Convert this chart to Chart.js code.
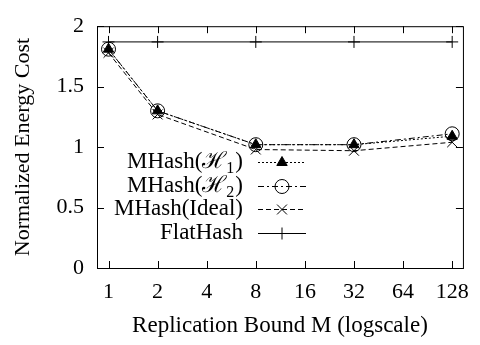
<!DOCTYPE html>
<html lang="en">
<head>
    <meta charset="UTF-8">
    <title>Normalized Energy Cost vs Replication Bound</title>
    <style>
        body { margin: 0; background: #fff; }
        #wrap { width: 480px; height: 345px; }
    </style>
    <script src="https://cdn.jsdelivr.net/npm/chart.js"></script>
</head>
<body>
    <div id="wrap"><canvas id="costChart"></canvas></div>
    <script>
        // data
        const bounds = [1, 2, 8, 32, 128];
        const tickBounds = [1, 2, 4, 8, 16, 32, 64, 128];
        const yTicks = [0, 0.5, 1, 1.5, 2];
        const h1Cost = [1.81, 1.30, 1.02, 1.02, 1.09];
        const h2Cost = [1.81, 1.30, 1.02, 1.02, 1.11];
        const idealCost = [1.78, 1.27, 0.98, 0.97, 1.04];
        const flatCost = [1.87, 1.87, 1.87, 1.87, 1.87];
        // label parts: main text, subscript, closing text
        const seriesNames = [
            ['MHash(ℋ', '1', ')'],
            ['MHash(ℋ', '2', ')'],
            ['MHash(Ideal)', '', ''],
            ['FlatHash', '', '']
        ];

        const FONT = 'Liberation Serif';

        function pts(ys) {
            return bounds.map((x, i) => ({ x: x, y: ys[i] }));
        }

        // gnuplot-like frame: box, inward ticks, legend with text left of sample
        const framePlugin = {
            id: 'frame',
            afterDatasetsDraw(chart) {
                const ctx = chart.ctx;
                const a = chart.chartArea;
                const xs = chart.scales.x, ys = chart.scales.y;
                ctx.save();
                ctx.strokeStyle = '#000';
                ctx.lineWidth = 1;
                ctx.setLineDash([]);
                ctx.strokeRect(a.left + 0.5, a.top + 0.5, a.right - a.left, a.bottom - a.top);
                ctx.beginPath();
                tickBounds.forEach(v => {
                    const px = Math.round(xs.getPixelForValue(v)) + 0.5;
                    ctx.moveTo(px, a.bottom); ctx.lineTo(px, a.bottom - 7);
                    ctx.moveTo(px, a.top); ctx.lineTo(px, a.top + 7);
                });
                yTicks.forEach(v => {
                    const py = Math.round(ys.getPixelForValue(v)) + 0.5;
                    ctx.moveTo(a.left, py); ctx.lineTo(a.left + 7, py);
                    ctx.moveTo(a.right, py); ctx.lineTo(a.right - 7, py);
                });
                ctx.stroke();

                // legend
                ctx.textBaseline = 'middle';
                ctx.textAlign = 'left';
                chart.data.datasets.forEach((ds, i) => {
                    const y = 162 + i * 23.7;
                    const [main, sub, tail] = ds.label;
                    ctx.fillStyle = '#000';
                    ctx.font = '23px ' + FONT;
                    const wMain = ctx.measureText(main).width;
                    const wTail = ctx.measureText(tail).width;
                    ctx.font = '16px ' + FONT;
                    const wSub = sub ? ctx.measureText(sub).width + 1 : 0;
                    let x = 243 - wMain - wSub - wTail;
                    ctx.font = '23px ' + FONT;
                    ctx.fillText(main, x, y);
                    x += wMain;
                    if (sub) {
                        ctx.font = '16px ' + FONT;
                        ctx.fillText(sub, x, y + 7);
                        x += wSub;
                        ctx.font = '23px ' + FONT;
                    }
                    ctx.fillText(tail, x, y);

                    ctx.beginPath();
                    ctx.setLineDash(ds.borderDash || []);
                    ctx.moveTo(258, Math.round(y) + 0.5);
                    ctx.lineTo(306, Math.round(y) + 0.5);
                    ctx.stroke();
                    ctx.setLineDash([]);
                    ctx.fillStyle = ds.pointBackgroundColor;
                    ctx.strokeStyle = '#000';
                    Chart.helpers.drawPoint(ctx, {
                        pointStyle: ds.pointStyle,
                        radius: ds.pointRadius,
                        rotation: 0,
                        borderWidth: 1
                    }, 282, Math.round(y) + 0.5);
                });
                ctx.restore();
            }
        };

        const ctx = document.getElementById('costChart').getContext('2d');
        new Chart(ctx, {
            type: 'line',
            data: {
                datasets: [
                    { label: seriesNames[0], data: pts(h1Cost), borderDash: [2, 2],
                      pointStyle: 'triangle', pointRadius: 6, pointBackgroundColor: '#000' },
                    { label: seriesNames[1], data: pts(h2Cost), borderDash: [6, 3, 2, 3],
                      pointStyle: 'circle', pointRadius: 7, pointBackgroundColor: 'rgba(0,0,0,0)' },
                    { label: seriesNames[2], data: pts(idealCost), borderDash: [5, 3],
                      pointStyle: 'crossRot', pointRadius: 7, pointBackgroundColor: '#000' },
                    { label: seriesNames[3], data: pts(flatCost), borderDash: [],
                      pointStyle: 'cross', pointRadius: 6, pointBackgroundColor: '#000' }
                ].map(ds => Object.assign({
                    borderColor: '#000',
                    borderWidth: 1,
                    pointBorderColor: '#000',
                    pointBorderWidth: 1,
                    fill: false,
                    tension: 0
                }, ds))
            },
            options: {
                responsive: true,
                maintainAspectRatio: false,
                animation: false,
                layout: { padding: { top: 10, right: 11, left: 0, bottom: 0 } },
                plugins: {
                    legend: { display: false },
                    tooltip: { enabled: false }
                },
                scales: {
                    x: {
                        type: 'logarithmic',
                        min: 0.85,
                        max: 149,
                        afterBuildTicks: s => { s.ticks = tickBounds.map(v => ({ value: v })); },
                        afterFit: s => { s.height = 77; },
                        grid: { display: false, drawTicks: false },
                        border: { display: false },
                        ticks: {
                            color: '#000',
                            padding: 11,
                            maxRotation: 0,
                            autoSkip: false,
                            font: { family: FONT, size: 22 },
                            callback: v => String(v)
                        },
                        title: {
                            display: true,
                            text: 'Replication Bound M (logscale)',
                            color: '#000',
                            font: { family: FONT, size: 23 },
                            padding: { top: 4, bottom: 5 }
                        }
                    },
                    y: {
                        min: 0,
                        max: 2,
                        afterBuildTicks: s => { s.ticks = yTicks.map(v => ({ value: v })); },
                        afterFit: s => { s.width = 97; },
                        grid: { display: false, drawTicks: false },
                        border: { display: false },
                        ticks: {
                            color: '#000',
                            padding: 13,
                            font: { family: FONT, size: 22 },
                            callback: v => String(v)
                        },
                        title: {
                            display: true,
                            text: 'Normalized Energy Cost',
                            color: '#000',
                            font: { family: FONT, size: 22 },
                            padding: { top: 10, bottom: 4 }
                        }
                    }
                }
            },
            plugins: [framePlugin]
        });
    </script>
</body>
</html>
